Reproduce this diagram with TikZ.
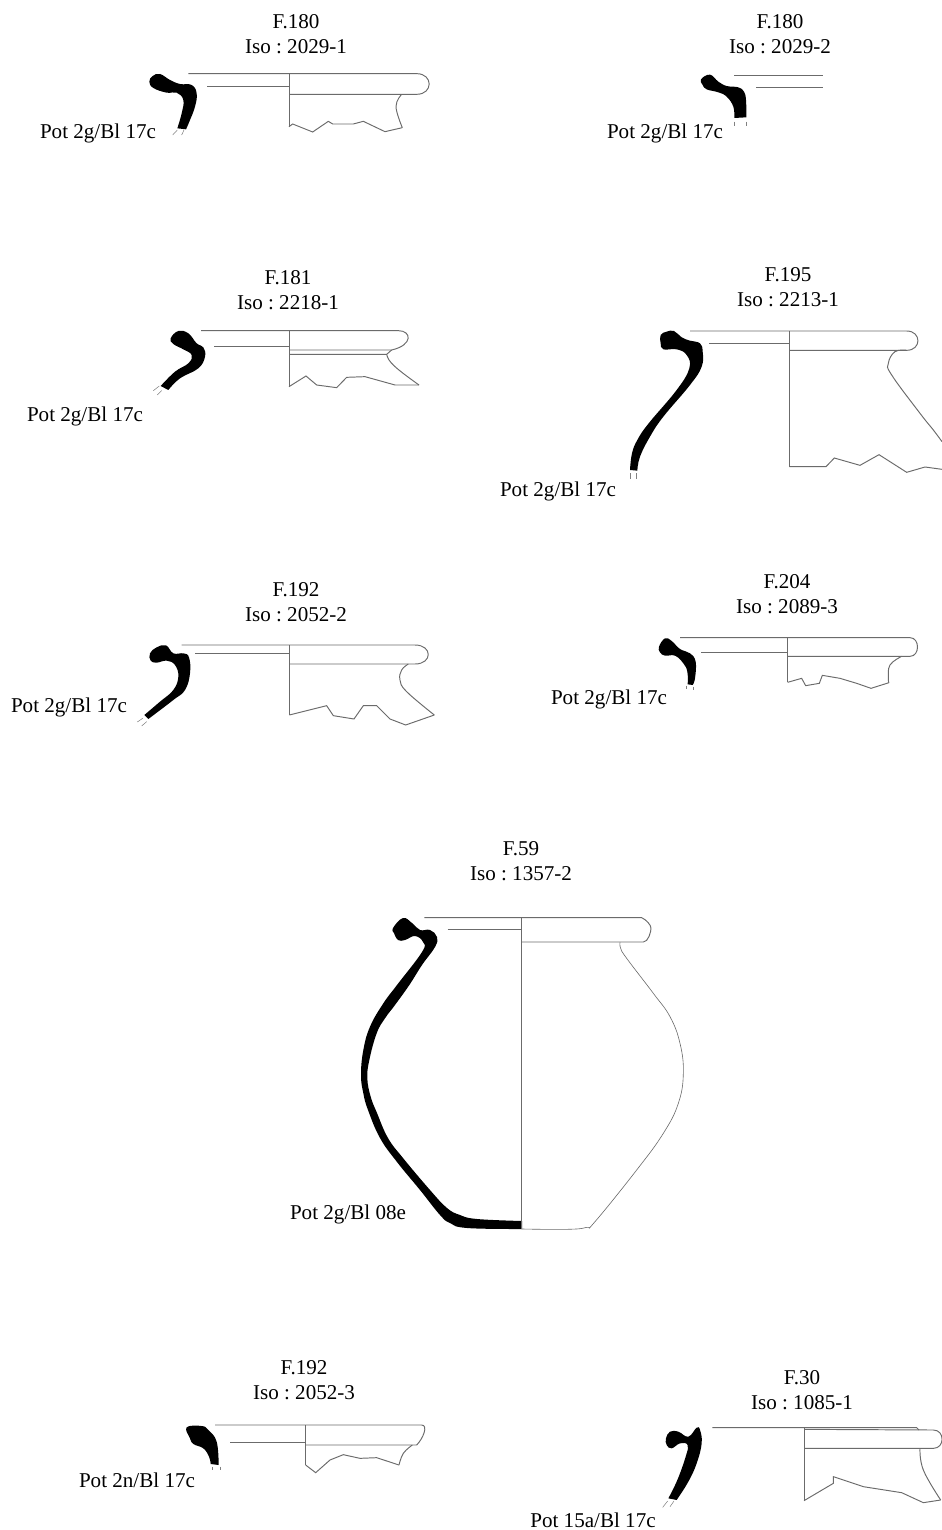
\documentclass[tikz,border=0pt]{standalone}
\usepackage{fontspec}
\setmainfont{Liberation Serif}
\frenchspacing
\tikzset{
  heading/.style={align=center, inner sep=0pt, font=\fontsize{12}{14.2}\selectfont},
  potname/.style={inner sep=0pt, font=\fontsize{12}{14.2}\selectfont},
  outline/.style={draw=black!58, line width=0.55pt},
  stub/.style={draw=black!50, line width=0.3pt},
  wall/.style={fill=black, draw=none},
  sherd/.style={smooth, tension=0.7}
}
\begin{document}
\begin{tikzpicture}[x=0.02cm, y=-0.02cm]
        \useasboundingbox (0,0) rectangle (942,1530);

        % Labels
        \node[heading] (head1) at (296,34) {F.180\\Iso : 2029-1};
        \node[heading] (head2) at (780,34) {F.180\\Iso : 2029-2};
        \node[heading] (head3) at (288,290) {F.181\\Iso : 2218-1};
        \node[heading] (head4) at (788,287) {F.195\\Iso : 2213-1};
        \node[heading] (head5) at (296,602) {F.192\\Iso : 2052-2};
        \node[heading] (head6) at (787,594) {F.204\\Iso : 2089-3};
        \node[heading] (head7) at (521,861) {F.59\\Iso : 1357-2};
        \node[heading] (head8) at (304,1380) {F.192\\Iso : 2052-3};
        \node[heading] (head9) at (802,1390) {F.30\\Iso : 1085-1};
        \node[potname] (pot1) at (98,133) {Pot 2g/Bl 17c};
        \node[potname] (pot2) at (665,133) {Pot 2g/Bl 17c};
        \node[potname] (pot3) at (85,416) {Pot 2g/Bl 17c};
        \node[potname] (pot4) at (558,491) {Pot 2g/Bl 17c};
        \node[potname] (pot5) at (69,707) {Pot 2g/Bl 17c};
        \node[potname] (pot6) at (609,699) {Pot 2g/Bl 17c};
        \node[potname] (pot7) at (348,1214) {Pot 2g/Bl 08e};
        \node[potname] (pot8) at (137,1480) {Pot 2n/Bl 17c};
        \node[potname] (pot9) at (593,1520) {Pot 15a/Bl 17c};

        % F.180, 2029-1
        \begin{scope}[shift={(20,0)}, scale=1/3]
        \fill[wall] plot[sherd] coordinates {(498,388) (508,365) (525,320) (530,280) (515,255) (480,252) (450,240) (420,222) (398,228) (388,245) (400,264) (440,278) (470,278) (490,300) (485,340) (472,385)} -- cycle;
        \draw[outline] (505,221) -- (1190,221) .. controls (1240,221) and (1240,283) .. (1190,283) -- (807,283);
        \draw[outline] (807,221) -- (807,380);
        \draw[outline] (562,258) -- (807,258);
        \draw[outline] (807,380) -- (818,372) -- (878,396) -- (925,364) -- (938,372) -- (1000,372) -- (1030,364) -- (1095,395) -- (1147,383);
        \draw[outline] plot[sherd] coordinates {(1147,383) (1128,320) (1145,283)};
        \draw[stub] (472,390) -- (458,405);
        \draw[stub] (492,390) -- (485,405);
        \end{scope}

        % F.180, 2029-2
        \begin{scope}[shift={(590,0)}, scale=1/3]
        \fill[wall] plot[sherd] coordinates {(469,352) (468,300) (462,275) (445,262) (410,258) (385,245) (360,224) (333,238) (338,255) (350,268) (385,277) (410,290) (430,320) (433,354)} -- cycle;
        \draw[outline] (432,225) -- (700,225);
        \draw[outline] (498,263) -- (700,263);
        \draw[stub] (432,365) -- (432,378);
        \draw[stub] (468,365) -- (468,378);
        \end{scope}

        % F.181, 2218-1
        \begin{scope}[shift={(20,260)}, scale=1/3]
        \fill[wall] plot[sherd] coordinates {(445,390) (480,355) (535,325) (555,290) (550,262) (530,250) (505,220) (475,213) (452,235) (460,252) (490,268) (515,285) (505,310) (465,335) (422,378)} -- cycle;
        \draw[outline] (543,212) -- (1135,212) .. controls (1175,212) and (1180,255) .. (1115,270) -- (807,270);
        \draw[outline] (807,283) -- (1100,283) -- (1115,270);
        \draw[outline] (807,212) -- (807,380);
        \draw[outline] (582,258) -- (807,258);
        \draw[outline] (1100,283) .. controls (1105,305) and (1120,320) .. (1197,375);
        \draw[outline] (807,380) -- (858,348) -- (890,375) -- (950,383) -- (980,352) -- (1035,350) -- (1125,375) -- (1197,375);
        \draw[stub] (418,378) -- (400,392);
        \draw[stub] (425,392) -- (412,405);
        \end{scope}

        % F.195, 2213-1
        \begin{scope}[shift={(490,260)}, scale=1/3]
        \fill[wall] plot[sherd] coordinates {(442,632) (450,590) (480,530) (520,470) (600,375) (635,320) (638,275) (630,250) (600,242) (575,232) (552,213) (530,215) (512,225) (512,250) (520,268) (560,268) (590,285) (598,325) (560,390) (476,490) (442,540) (426,580) (420,630)} -- cycle;
        \draw[outline] (600,213) -- (1250,213) .. controls (1295,213) and (1295,271) .. (1250,271) -- (898,271);
        \draw[outline] (898,213) -- (898,620);
        \draw[outline] (658,250) -- (898,250);
        \draw[outline] (898,620) -- (1008,620) -- (1033,594) -- (1110,616) -- (1167,584) -- (1250,637) -- (1305,621) -- (1356,628);
        \draw[outline] plot[sherd] coordinates {(1250,271) (1215,275) (1195,310) (1205,345) (1290,460) (1330,510) (1356,545)};
        \draw[stub] (420,640) -- (420,657);
        \draw[stub] (438,640) -- (438,657);
        \end{scope}

        % F.192, 2052-2
        \begin{scope}[shift={(0,570)}, scale=1/3]
        \fill[wall] plot[sherd] coordinates {(445,447) (520,390) (555,360) (570,310) (567,262) (550,250) (520,250) (498,226) (470,232) (450,250) (452,272) (470,278) (500,272) (525,285) (535,320) (520,360) (480,395) (433,435)} -- cycle;
        \draw[outline] (545,225) -- (1245,225) .. controls (1298,225) and (1298,282) .. (1245,282) -- (868,282);
        \draw[outline] (868,225) -- (868,435);
        \draw[outline] (585,250) -- (868,250);
        \draw[outline] (868,435) -- (980,407) -- (1000,437) -- (1062,447) -- (1090,407) -- (1130,407) -- (1170,447) -- (1217,465) -- (1303,435);
        \draw[outline] plot[sherd] coordinates {(1225,282) (1205,300) (1200,330) (1220,365) (1303,435)};
        \draw[stub] (428,445) -- (412,456);
        \draw[stub] (440,455) -- (425,468);
        \end{scope}

        % F.204, 2089-3
        \begin{scope}[shift={(540,565)}, scale=1/3]
        \fill[wall] plot[sherd] coordinates {(458,360) (465,340) (467,290) (450,265) (420,252) (395,228) (375,220) (357,245) (360,262) (375,272) (405,272) (430,295) (442,320) (443,358)} -- cycle;
        \draw[outline] (420,218) -- (1110,218) .. controls (1140,218) and (1140,274) .. (1110,274) -- (743,274);
        \draw[outline] (743,218) -- (743,352);
        \draw[outline] (483,262) -- (743,262);
        \draw[outline] (743,352) -- (785,340) -- (797,362) -- (838,355) -- (847,331) -- (900,340) -- (950,355) -- (993,370) -- (1047,353);
        \draw[outline] plot[sherd] coordinates {(1085,274) (1050,300) (1045,340) (1047,353)};
        \draw[stub] (438,362) -- (438,372);
        \draw[stub] (460,365) -- (460,375);
        \end{scope}

        % F.59, 1357-2
        \begin{scope}[shift={(280,830)}, scale=1/3]
        \fill[wall] plot[sherd] coordinates {(342,309) (339,294) (369,264) (396,279) (420,300) (450,300) (471,321) (465,351) (426,405) (388,465) (345,525) (315,565) (290,610) (268,690) (262,745) (272,800) (291,849) (324,924) (369,984) (450,1080) (501,1134) (540,1155) (591,1167) (726,1173)} -- (726,1197) -- plot[sherd] coordinates {(726,1197) (561,1194) (510,1179) (480,1155) (420,1080) (351,996) (300,924) (264,840) (250,790) (243,735) (250,660) (270,590) (310,520) (351,465) (426,366) (429,336) (405,318) (375,330) (354,330) (342,309)} -- cycle;
        \draw[outline] (433,263) -- (1085,263) .. controls (1100,270) and (1113,285) .. (1113,295) .. controls (1113,305) and (1105,336) .. (1090,336) -- (725,336);
        \draw[outline] (725,263) -- (725,1197);
        \draw[outline] (503,298) -- (725,298);
        \draw[outline, line width=0.35pt] plot[sherd] coordinates {(1020,337) (1022,355) (1040,385) (1120,490) (1170,560) (1200,640) (1210,730) (1195,820) (1150,910) (1070,1020) (945,1175) (920,1192) (860,1198) (725,1197)};
        \end{scope}

        % F.192, 2052-3
        \begin{scope}[shift={(70,1350)}, scale=1/3]
        \fill[wall] plot[sherd] coordinates {(446,345) (440,275) (415,240) (395,228) (350,232) (360,265) (370,282) (400,295) (417,320) (422,342)} -- cycle;
        \draw[outline] (435,225) -- (1055,225) .. controls (1075,225) and (1060,265) .. (1040,285) -- (707,285);
        \draw[outline] (707,225) -- (707,345);
        \draw[outline] (480,278) -- (707,278);
        \draw[outline] (707,345) -- (737,368) -- (780,330) -- (820,314) -- (870,325) -- (920,323) -- (987,345);
        \draw[outline] plot[sherd] coordinates {(1027,285) (1000,310) (987,345)};
        \draw[stub] (427,350) -- (427,360);
        \draw[stub] (450,350) -- (450,360);
        \end{scope}

        % F.30, 1085-1
        \begin{scope}[shift={(520,1360)}, scale=1/3]
        \fill[wall] plot[sherd] coordinates {(470,420) (505,365) (530,310) (545,250) (540,210) (530,203) (505,230) (475,215) (450,215) (438,235) (440,255) (455,265) (480,250) (503,255) (497,290) (472,360) (445,415)} -- cycle;
        \draw[outline] (577,203) -- (1190,203) -- (1197,210);
        \draw[outline] (852,208) -- (1240,210) .. controls (1275,210) and (1275,265) .. (1240,265) -- (852,265);
        \draw[outline] (852,203) -- (852,422);
        \draw[outline] (852,422) -- (940,370) -- (940,350) -- (1030,380) -- (1145,398) -- (1210,428) -- (1262,420);
        \draw[outline] plot[sherd] coordinates {(1200,265) (1210,330) (1262,420)};
        \draw[stub] (443,423) -- (428,442);
        \draw[stub] (462,423) -- (450,440);
        \end{scope}
    \end{tikzpicture}
\end{document}
